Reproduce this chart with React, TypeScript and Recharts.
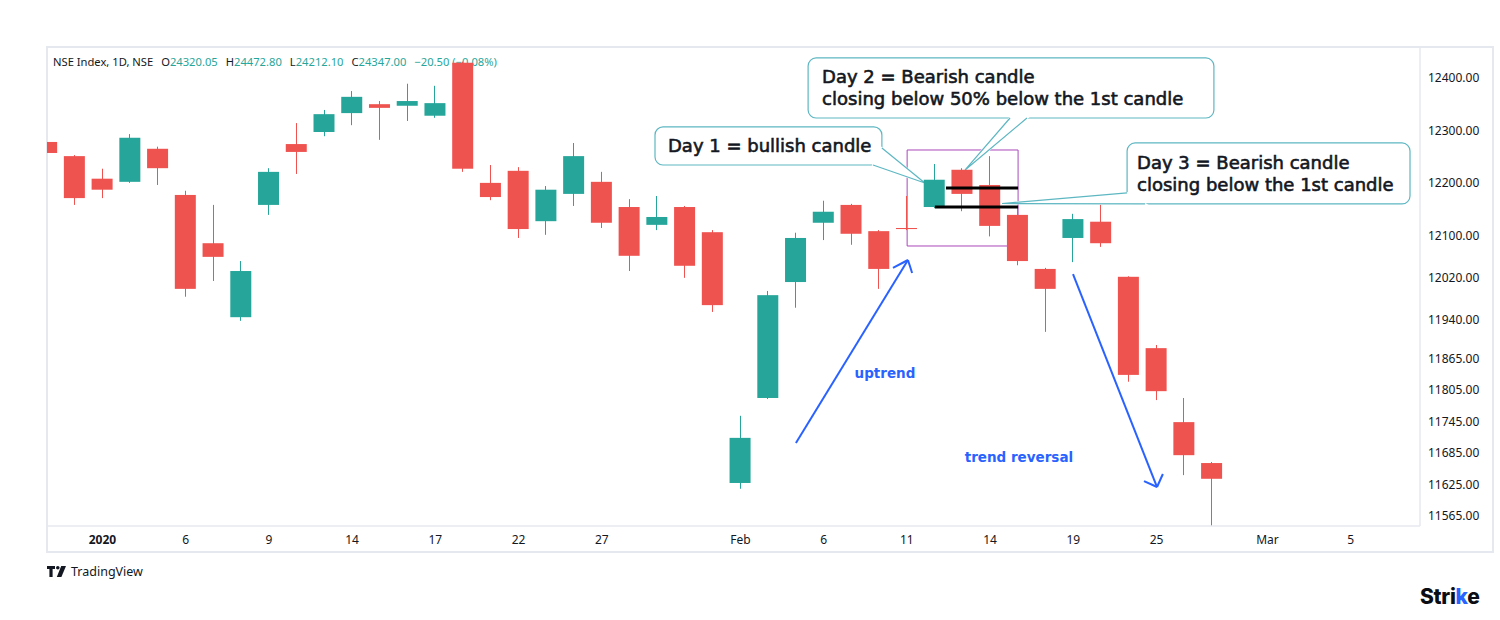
import React from 'react';
import {
  ComposedChart,
  Bar,
  XAxis,
  YAxis,
  ReferenceArea,
  ReferenceLine,
  ReferenceDot,
} from 'recharts';

// NSE index, daily candles, 30 Dec 2019 - 27 Feb 2020
const dates = [
  '2019-12-30', '2019-12-31', '2020-01-01', '2020-01-02', '2020-01-03',
  '2020-01-06', '2020-01-07', '2020-01-08', '2020-01-09', '2020-01-10',
  '2020-01-13', '2020-01-14', '2020-01-15', '2020-01-16', '2020-01-17',
  '2020-01-20', '2020-01-21', '2020-01-22', '2020-01-23', '2020-01-24',
  '2020-01-27', '2020-01-28', '2020-01-29', '2020-01-30', '2020-01-31',
  '2020-02-03', '2020-02-04', '2020-02-05', '2020-02-06', '2020-02-07',
  '2020-02-10', '2020-02-11', '2020-02-12', '2020-02-13', '2020-02-14',
  '2020-02-17', '2020-02-18', '2020-02-19', '2020-02-20', '2020-02-24',
  '2020-02-25', '2020-02-26', '2020-02-27',
];

const open = [
  12278, 12251, 12208, 12202, 12265, 12177, 12085, 11944, 12158, 12274,
  12297, 12333, 12350, 12347, 12328, 12429, 12200, 12223, 12127, 12179,
  12202, 12154, 12120, 12154, 12106, 11628, 11790, 12011, 12124, 12158,
  12108, 12114, 12154, 12225, 12196, 12139, 12036, 12095, 12126, 12021,
  11885, 11744, 11666,
];
const high = [
  12289, 12253, 12227, 12293, 12269, 12185, 12158, 12051, 12228, 12314,
  12339, 12375, 12356, 12389, 12385, 12431, 12234, 12230, 12194, 12276,
  12221, 12169, 12175, 12156, 12110, 11756, 11994, 12105, 12166, 12160,
  12110, 12175, 12236, 12228, 12251, 12154, 12038, 12141, 12158, 12022,
  11891, 11790, 11668,
];
const low = [
  12219, 12158, 12171, 12200, 12196, 11983, 12013, 11937, 12139, 12217,
  12289, 12310, 12282, 12318, 12324, 12221, 12167, 12095, 12101, 12156,
  12114, 12032, 12110, 12019, 11954, 11617, 11788, 11962, 12091, 12082,
  11998, 12110, 12152, 12146, 12098, 12043, 11916, 12049, 12078, 11821,
  11786, 11643, 11540,
];
const close = [
  12257, 12171, 12187, 12286, 12228, 11998, 12059, 12032, 12221, 12259,
  12331, 12364, 12343, 12356, 12352, 12227, 12173, 12112, 12187, 12251,
  12124, 12061, 12135, 12042, 11967, 11714, 11986, 12095, 12145, 12103,
  12036, 12112, 12206, 12179, 12118, 12051, 11998, 12131, 12085, 11834,
  11803, 11681, 11636,
];

const priceTicks = [12400, 12300, 12200, 12100, 12020, 11940, 11865, 11805, 11745, 11685, 11625, 11565];
const dayTicks = [2, 5, 8, 11, 14, 17, 20, 25, 28, 31, 34, 37, 40, 44, 47];
const dayLabels = ['2020', '6', '9', '14', '17', '22', '27', 'Feb', '6', '11', '14', '19', '25', 'Mar', '5'];

const rows = dates.map((date, i) => ({
  i,
  date,
  open: open[i],
  high: high[i],
  low: low[i],
  close: close[i],
  range: [low[i], high[i]],
}));

const UP = '#26a69a';
const DOWN = '#ef5350';
const INK = '#131722';
const BLUE = '#2962ff';
const EDGE = '#5db7c2';
const FRAME = '#e6e8ef';
const FONT = '"Noto Sans", "DejaVu Sans", sans-serif';

const Candle = (p: any) => {
  let { x, y, width, height } = p;
  const d = p.payload;
  if (height < 0) {
    y += height;
    height = -height;
  }
  const color = d.close >= d.open ? UP : DOWN;
  const k = height / (d.high - d.low);
  const yOf = (v: number) => y + (d.high - v) * k;
  const cx = Math.floor(x + width / 2) + 0.5;
  const top = yOf(Math.max(d.open, d.close));
  const bot = yOf(Math.min(d.open, d.close));
  return (
    <g>
      <line x1={cx} x2={cx} y1={y} y2={y + height} stroke={color} strokeWidth={1} />
      <rect x={x} y={top} width={width} height={Math.max(1, bot - top)} fill={color} />
    </g>
  );
};

const DayTick = (p: any) => {
  const k = dayTicks.indexOf(p.payload.value);
  const label = dayLabels[k] ?? '';
  return (
    <text
      x={p.x}
      y={p.y}
      dy={10}
      textAnchor="middle"
      fontFamily={FONT}
      fontSize={12}
      fontWeight={label === '2020' ? 700 : 400}
      fill={INK}
    >
      {label}
    </text>
  );
};

type Pt = { x: number; y: number };
type Callout = { x1: number; x2: number; y1: number; y2: number; tail: Pt[]; lines: string[]; pad: number };

// callout boxes, in chart units (day index, price)
const callouts: Callout[] = [
  {
    x1: 21.92, x2: 30.1, y1: 12234.1, y2: 12306.6,
    tail: [{ x: 29.78, y: 12234.1 }, { x: 31.65, y: 12199.8 }, { x: 30.1, y: 12266.6 }],
    lines: ['Day 1 = bullish candle'],
    pad: 13,
  },
  {
    x1: 27.44, x2: 42.07, y1: 12323.7, y2: 12438.1,
    tail: [{ x: 34.72, y: 12323.7 }, { x: 33.1, y: 12224.6 }, { x: 35.33, y: 12323.7 }],
    lines: ['Day 2 = Bearish candle', 'closing below 50% below the 1st candle'],
    pad: 14,
  },
  {
    x1: 38.94, x2: 49.14, y1: 12159.8, y2: 12276.1,
    tail: [{ x: 38.94, y: 12180.8 }, { x: 34.43, y: 12160.7 }, { x: 39.59, y: 12159.8 }],
    lines: ['Day 3 = Bearish candle', 'closing below the 1st candle'],
    pad: 10,
  },
];

const makeCallout = (c: Callout) => (p: any) => {
  const { x, y, width, height } = p;
  const kx = width / (c.x2 - c.x1);
  const ky = height / (c.y2 - c.y1);
  const pts = c.tail.map((t) => `${x + (t.x - c.x1) * kx},${y + (c.y2 - t.y) * ky}`).join(' ');
  const mid = y + height / 2;
  return (
    <g>
      <rect x={x} y={y} width={width} height={height} rx={8} fill="#fff" stroke={EDGE} strokeWidth={1.2} />
      <polygon points={pts} fill="#fff" stroke="#fff" strokeWidth={2} />
      <polyline points={pts} fill="none" stroke={EDGE} strokeWidth={1.2} />
      {c.lines.map((l, i) => (
        <text
          key={i}
          x={x + c.pad}
          y={mid + (i - (c.lines.length - 1) / 2) * 22}
          dominantBaseline="central"
          fontFamily='"DejaVu Sans", sans-serif'
          fontSize={18}
          fill={INK}
          stroke={INK}
          strokeWidth={0.6}
        >
          {l}
        </text>
      ))}
    </g>
  );
};

// trend arrows: shaft then two head strokes, chart units
const arrows: Pt[][] = [
  [{ x: 27.0, y: 11704.2 }, { x: 31.04, y: 12053.0 }],
  [{ x: 30.5, y: 12037.8 }, { x: 31.04, y: 12053.0 }],
  [{ x: 31.19, y: 12028.2 }, { x: 31.04, y: 12053.0 }],
  [{ x: 36.99, y: 12026.3 }, { x: 40.02, y: 11620.3 }],
  [{ x: 39.55, y: 11631.7 }, { x: 40.02, y: 11620.3 }],
  [{ x: 40.23, y: 11645.1 }, { x: 40.02, y: 11620.3 }],
];

const marks: Pt[][] = [
  [{ x: 32.41, y: 12190.3 }, { x: 35.01, y: 12190.3 }],
  [{ x: 32.01, y: 12154.1 }, { x: 35.01, y: 12154.1 }],
];

const notes = [
  { x: 30.21, y: 11837.6, text: 'uptrend' },
  { x: 35.04, y: 11677.5, text: 'trend reversal' },
];

const teal = { color: UP };

export default function App() {
  return (
    <div style={{ position: 'absolute', left: 0, top: 0, width: 1500, height: 620, background: '#fff', overflow: 'hidden' }}>
      <div
        style={{
          position: 'absolute',
          left: 46,
          top: 46,
          width: 1448,
          height: 507,
          border: `2px solid ${FRAME}`,
          boxSizing: 'border-box',
        }}
      />
      <div
        style={{
          position: 'absolute',
          left: 53,
          top: 54,
          fontFamily: FONT,
          fontSize: 11.2,
          lineHeight: '16px',
          color: INK,
          whiteSpace: 'pre',
        }}
      >
        <span>NSE Index, 1D, NSE</span>
        <span style={{ marginLeft: 8 }}>O<span style={teal}>24320.05</span></span>
        <span style={{ marginLeft: 8 }}>H<span style={teal}>24472.80</span></span>
        <span style={{ marginLeft: 8 }}>L<span style={teal}>24212.10</span></span>
        <span style={{ marginLeft: 8 }}>C<span style={teal}>24347.00</span></span>
        <span style={{ marginLeft: 8, color: UP }}>−20.50 (−0.08%)</span>
      </div>

      <div style={{ position: 'absolute', left: 0, top: 0 }}>
        <ComposedChart width={1500} height={620} data={rows} margin={{ top: 47, right: 6, bottom: 67, left: 47 }}>
          <XAxis
            type="number"
            dataKey="i"
            domain={[0, 49.5]}
            allowDataOverflow
            ticks={dayTicks}
            interval={0}
            tick={<DayTick />}
            tickLine={false}
            axisLine={{ stroke: FRAME, strokeWidth: 1.5 }}
            height={27}
          />
          <YAxis
            orientation="right"
            type="number"
            domain={[11546, 12459]}
            allowDataOverflow
            ticks={priceTicks}
            interval={0}
            tickFormatter={(v: number) => v.toFixed(2)}
            tick={{ fill: INK, fontSize: 12, fontFamily: FONT }}
            tickLine={false}
            axisLine={{ stroke: FRAME, strokeWidth: 1.5 }}
            width={74}
          />
          <Bar dataKey="range" barSize={21} shape={Candle} isAnimationActive={false} />

          <ReferenceArea
            x1={31.01}
            x2={35.01}
            y1={12079.7}
            y2={12262.7}
            fill="none"
            fillOpacity={0}
            stroke="#ab47bc"
            strokeWidth={1}
          />
          {marks.map((s, i) => (
            <ReferenceLine key={`m${i}`} segment={s} stroke="#000" strokeWidth={3} />
          ))}
          {arrows.map((s, i) => (
            <ReferenceLine key={`a${i}`} segment={s} stroke={BLUE} strokeWidth={2} />
          ))}
          {callouts.map((c, i) => (
            <ReferenceArea key={`c${i}`} x1={c.x1} x2={c.x2} y1={c.y1} y2={c.y2} shape={makeCallout(c)} />
          ))}
          {notes.map((n, i) => (
            <ReferenceDot
              key={`n${i}`}
              x={n.x}
              y={n.y}
              r={0}
              shape={(p: any) => (
                <text
                  x={p.cx}
                  y={p.cy}
                  textAnchor="middle"
                  dominantBaseline="central"
                  fontFamily='"DejaVu Sans", sans-serif'
                  fontWeight={700}
                  fontSize={13.5}
                  fill={BLUE}
                >
                  {n.text}
                </text>
              )}
            />
          ))}
        </ComposedChart>
      </div>

      <div style={{ position: 'absolute', left: 47, top: 565, display: 'flex', alignItems: 'center', gap: 4 }}>
        <svg width={20} height={12} viewBox="0 0 20 12">
          <path d="M0 0 H8 V3 H5.6 V11 H2.4 V3 H0 Z" fill={INK} />
          <circle cx={10.8} cy={1.8} r={1.8} fill={INK} />
          <path d="M14.2 0 H19 L14.4 11 H9.8 Z" fill={INK} />
        </svg>
        <span style={{ fontFamily: FONT, fontSize: 12.5, color: INK, lineHeight: '14px' }}>TradingView</span>
      </div>

      <div
        style={{
          position: 'absolute',
          left: 1420,
          top: 584,
          fontFamily: 'Inter, "Noto Sans", sans-serif',
          fontWeight: 800,
          fontSize: 21,
          lineHeight: '26px',
          color: '#0b0d14',
          letterSpacing: -0.3,
        }}
      >
        Stri<span style={{ color: BLUE }}>k</span>e
      </div>
    </div>
  );
}
